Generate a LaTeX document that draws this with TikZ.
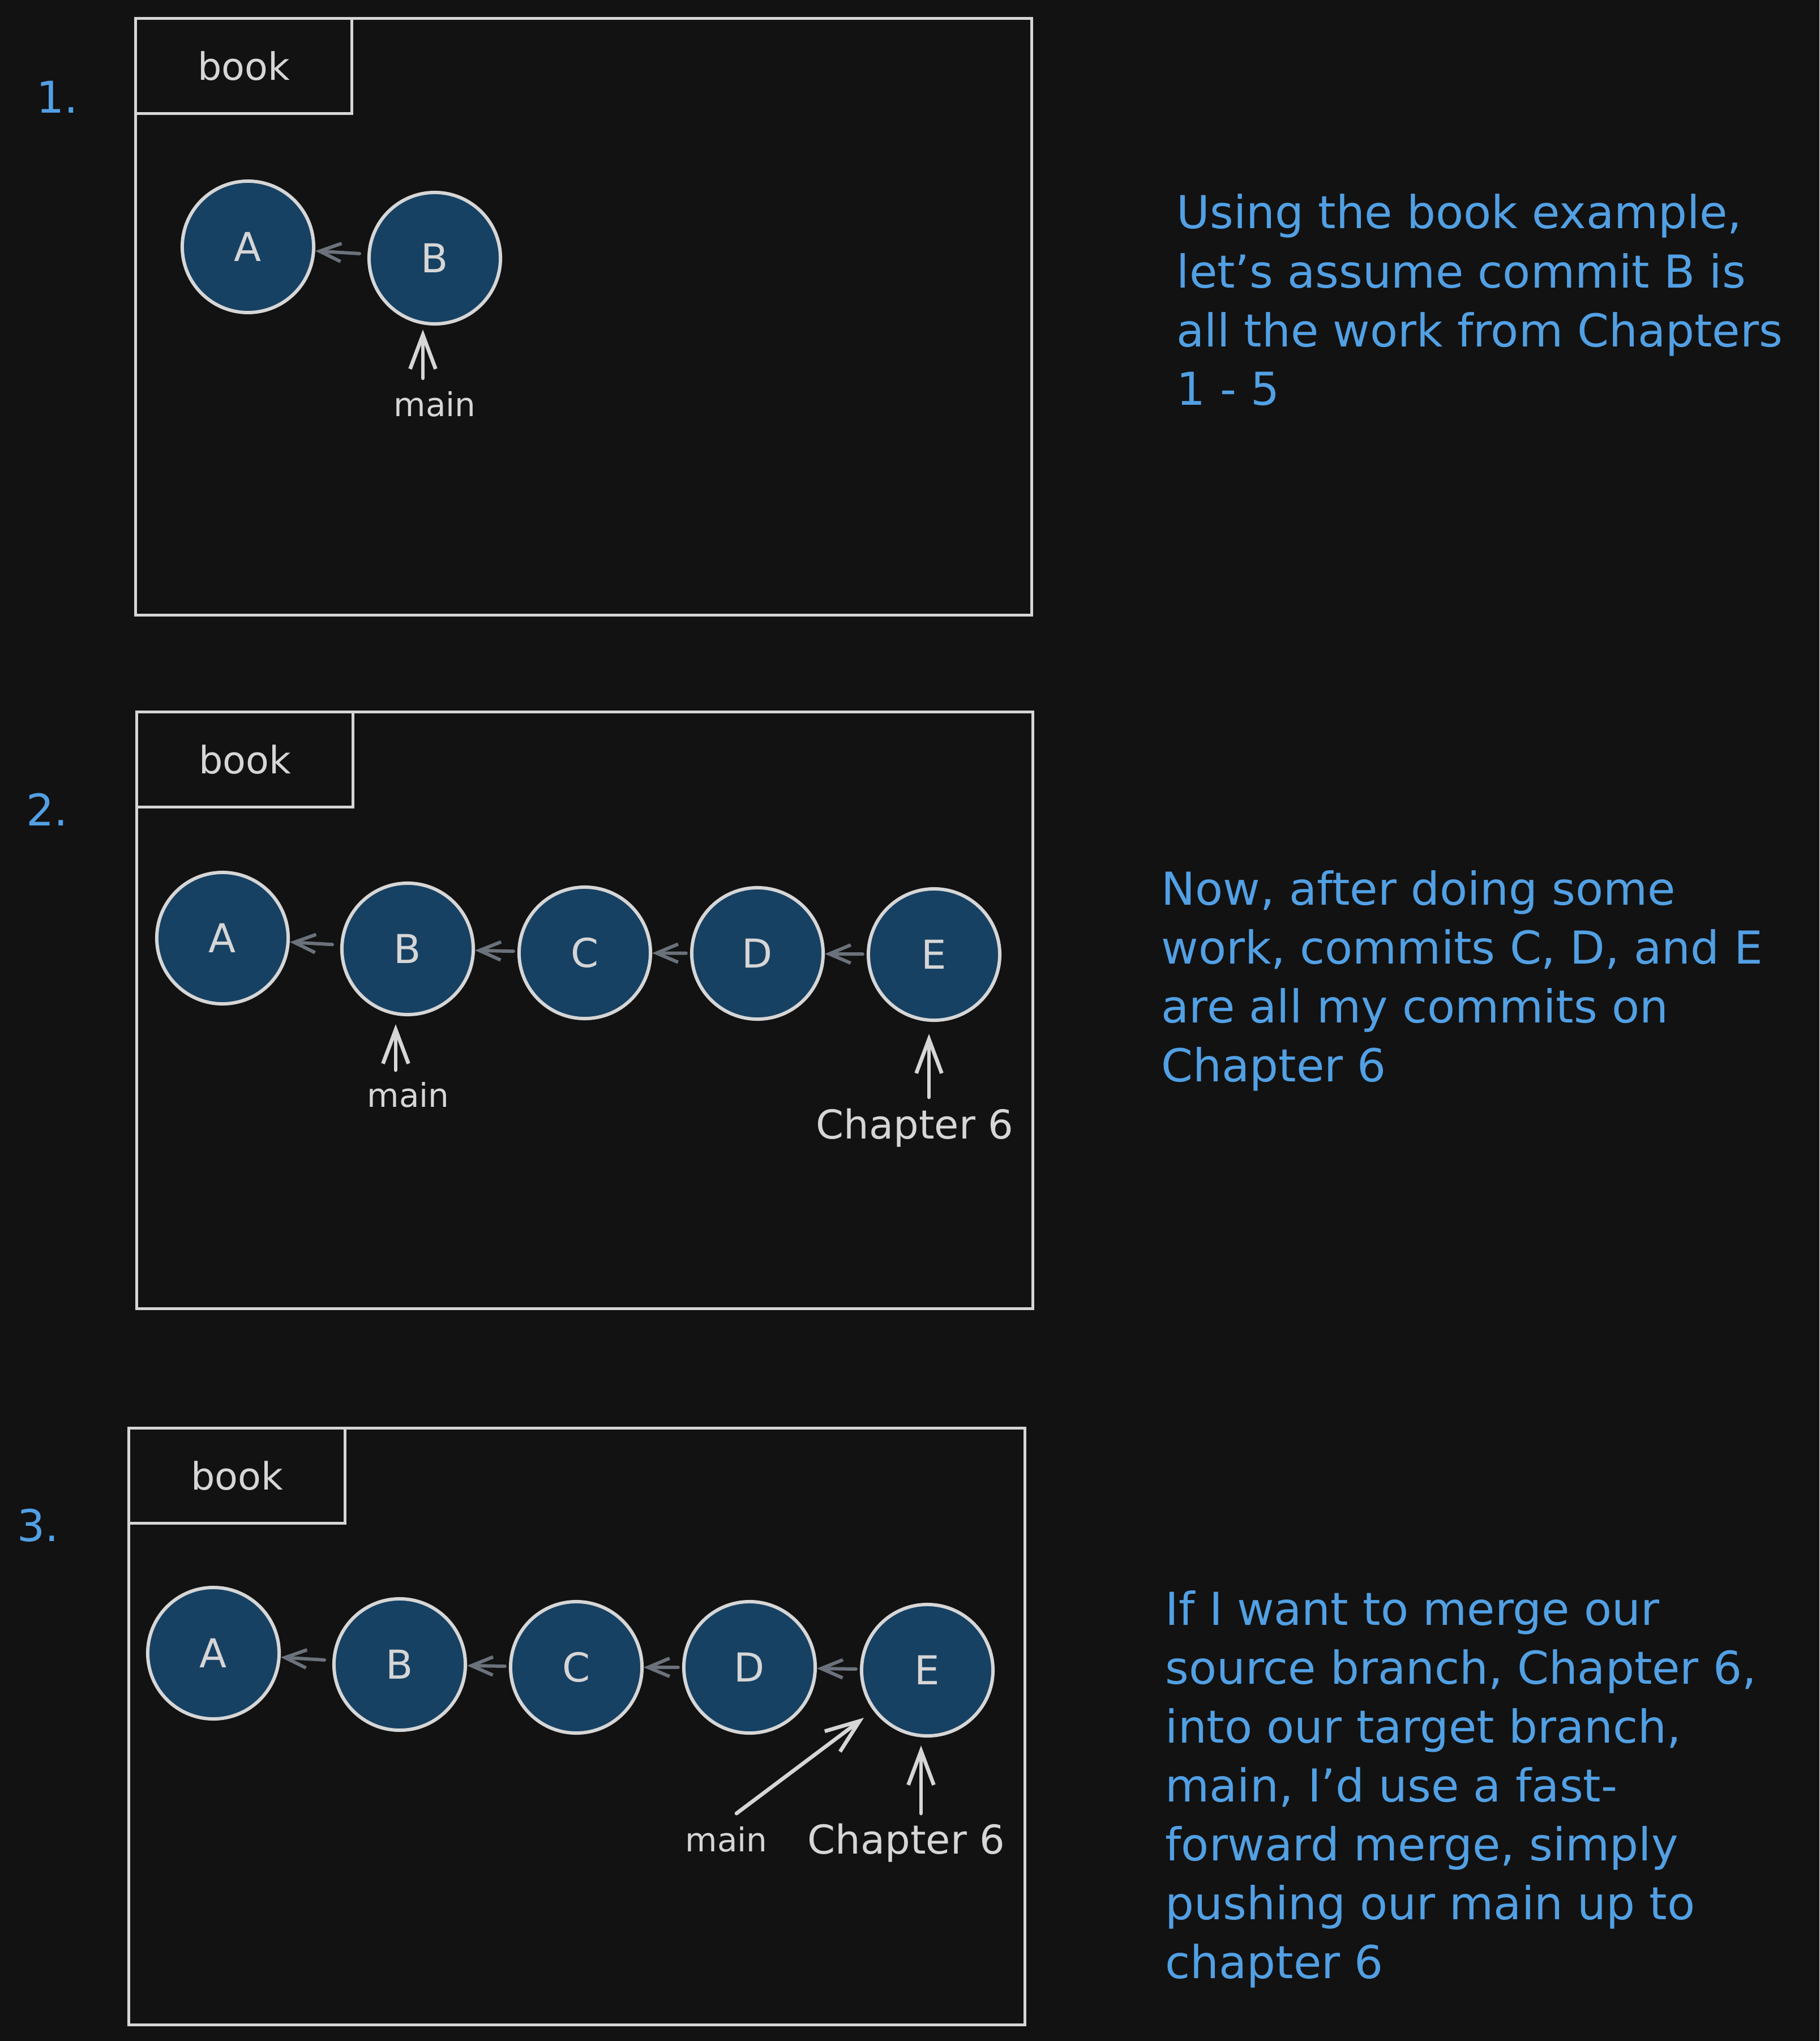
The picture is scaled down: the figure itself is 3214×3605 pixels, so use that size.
\documentclass[tikz,border=0pt]{standalone}
\usepackage{fontspec}
\setmainfont{DejaVu Sans}
\usetikzlibrary{arrows.meta,calc}
\definecolor{bgc}{HTML}{121212}
\definecolor{strk}{RGB}{214,214,214}
\definecolor{cfill}{RGB}{23,65,99}
\definecolor{bluetxt}{RGB}{82,160,228}
\definecolor{grayarr}{RGB}{107,114,123}
\begin{document}
\begin{tikzpicture}[x=0.01cm,y=-0.01cm,
  panel/.style={draw=strk,line width=1.4pt,anchor=north west,minimum width=15.82cm,minimum height=10.53cm,inner sep=0pt},
  tabbox/.style={draw=strk,line width=1.4pt,anchor=north west,minimum width=3.82cm,minimum height=1.68cm,inner sep=0pt,text=strk,font=\fontsize{19pt}{22pt}\selectfont},
  commit/.style={circle,draw=strk,fill=cfill,line width=1.7pt,minimum size=2.32cm,inner sep=0pt,text=strk,font=\fontsize{20pt}{24pt}\selectfont},
  note/.style={anchor=base west,inner sep=0pt,text=bluetxt,font=\fontsize{22.8pt}{26pt}\selectfont},
  num/.style={anchor=base west,inner sep=0pt,text=bluetxt,font=\fontsize{22pt}{26pt}\selectfont},
  lbl/.style={anchor=base,inner sep=0pt,text=strk,font=\fontsize{16.5pt}{20pt}\selectfont},
  lblc/.style={anchor=base,inner sep=0pt,text=strk,font=\fontsize{20pt}{23pt}\selectfont},
  garrow/.style={draw=grayarr,line width=1.7pt,line cap=round,-{Straight Barb[length=0.38cm,width=0.32cm]}},
  warrow/.style={draw=strk,line width=1.9pt,line cap=round,-{Straight Barb[length=0.6cm,width=0.45cm]}}
]
\path[fill=bgc] (0,0) rectangle (3214,3605);

% ---------- Panel 1 ----------
\node[panel] (p1) at (237,30) {};
\node[tabbox] (p1tab) at (237,30) {book};
\node[num] (n1) at (64,199) {1.};
\node[commit] (p1a) at (438,436) {A};
\node[commit] (p1b) at (768,456) {B};
\draw[garrow,shorten <=4pt] (p1b) -- (p1a);
\node[lbl] (p1main) at (768,735) {main};
\coordinate (p1mt) at (747,668);
\draw[warrow,shorten >=2pt] (p1mt) -- (p1b.south -| p1mt);
\node[note] (t1a) at (2078,403) {Using the book example,};
\node[note] (t1b) at (2078,508) {let's assume commit B is};
\node[note] (t1c) at (2078,612) {all the work from Chapters};
\node[note] (t1d) at (2078,715) {1 - 5};

% ---------- Panel 2 ----------
\node[panel] (p2) at (239,1255) {};
\node[tabbox] (p2tab) at (239,1255) {book};
\node[num] (n2) at (46,1458) {2.};
\node[commit] (p2a) at (393,1657) {A};
\node[commit] (p2b) at (720,1676) {B};
\node[commit] (p2c) at (1033,1683) {C};
\node[commit] (p2d) at (1338,1684) {D};
\node[commit] (p2e) at (1650,1686) {E};
\draw[garrow,shorten <=4pt] (p2b) -- (p2a);
\draw[garrow,shorten <=2pt] (p2c) -- (p2b);
\draw[garrow,shorten <=2pt] (p2d) -- (p2c);
\draw[garrow,shorten <=2pt] (p2e) -- (p2d);
\node[lbl] (p2main) at (721,1955) {main};
\coordinate (p2mt) at (699,1890);
\draw[warrow,shorten >=4pt] (p2mt) -- (p2b.south -| p2mt);
\node[lblc] (p2ch) at (1616,2011) {Chapter 6};
\coordinate (p2ct) at (1641,1938);
\draw[warrow,shorten >=6pt] (p2ct) -- (p2e.south -| p2ct);
\node[note] (t2a) at (2051,1598) {Now, after doing some};
\node[note] (t2b) at (2051,1702) {work, commits C, D, and E};
\node[note] (t2c) at (2051,1806) {are all my commits on};
\node[note] (t2d) at (2051,1910) {Chapter 6};

% ---------- Panel 3 ----------
\node[panel] (p3) at (225,2520) {};
\node[tabbox] (p3tab) at (225,2520) {book};
\node[num] (n3) at (30,2722) {3.};
\node[commit] (p3a) at (377,2920) {A};
\node[commit] (p3b) at (706,2940) {B};
\node[commit] (p3c) at (1018,2945) {C};
\node[commit] (p3d) at (1324,2945) {D};
\node[commit] (p3e) at (1638,2950) {E};
\draw[garrow,shorten <=4pt] (p3b) -- (p3a);
\draw[garrow,shorten <=2pt] (p3c) -- (p3b);
\draw[garrow,shorten <=2pt] (p3d) -- (p3c);
\draw[garrow,shorten <=2pt] (p3e) -- (p3d);
\node[lbl] (p3main) at (1283,3270) {main};
\coordinate (p3mt) at (1301,3203);
\draw[warrow,shorten >=0.21cm] (p3mt) -- (p3e);
\node[lblc] (p3ch) at (1601,3274) {Chapter 6};
\coordinate (p3ct) at (1627,3203);
\draw[warrow,shorten >=4pt] (p3ct) -- (p3e.south -| p3ct);
\node[note] (t3a) at (2058,2870) {If I want to merge our};
\node[note] (t3b) at (2058,2974) {source branch, Chapter 6,};
\node[note] (t3c) at (2058,3078) {into our target branch,};
\node[note] (t3d) at (2058,3182) {main, I'd use a fast-};
\node[note] (t3e) at (2058,3286) {forward merge, simply};
\node[note] (t3f) at (2058,3390) {pushing our main up to};
\node[note] (t3g) at (2058,3494) {chapter 6};
\end{tikzpicture}
\end{document}
